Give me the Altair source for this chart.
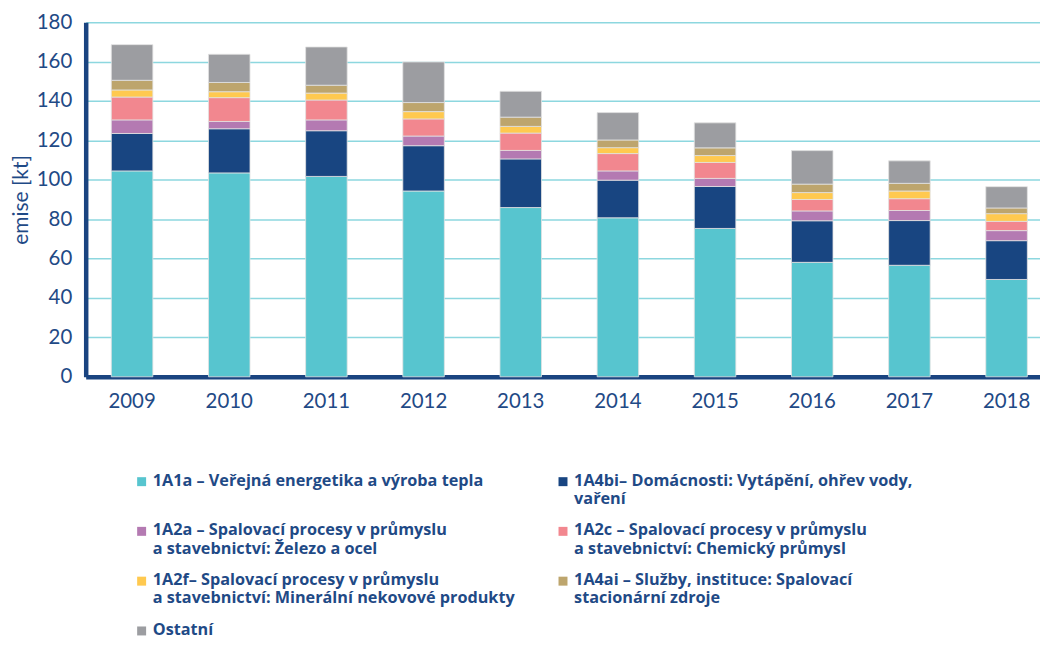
import altair as alt
import pandas as pd

years = ["2009", "2010", "2011", "2012", "2013", "2014", "2015", "2016", "2017", "2018"]

categories = [
    "1A1a – Veřejná energetika a výroba tepla",
    "1A4bi– Domácnosti: Vytápění, ohřev vody,|vaření",
    "1A2a – Spalovací procesy v průmyslu|a stavebnictví: Železo a ocel",
    "1A2c – Spalovací procesy v průmyslu|a stavebnictví: Chemický průmysl",
    "1A2f– Spalovací procesy v průmyslu|a stavebnictví: Minerální nekovové produkty",
    "1A4ai – Služby, instituce: Spalovací|stacionární zdroje",
    "Ostatní",
]

colors = ["#57C5CF", "#184581", "#B47AB2", "#F2878F", "#FFC94F", "#BDA56D", "#9C9DA1"]

s_1A1a = [104.5, 103.5, 101.7, 94.3, 85.9, 80.7, 75.3, 58.1, 56.6, 49.4]
s_1A4bi = [19.0, 22.4, 23.2, 23.0, 24.7, 19.1, 21.3, 21.1, 22.7, 19.7]
s_1A2a = [6.9, 3.7, 5.5, 4.9, 4.3, 4.7, 4.1, 5.0, 5.1, 5.1]
s_1A2c = [11.6, 12.1, 10.1, 8.7, 8.8, 8.8, 8.1, 5.8, 6.0, 4.7]
s_1A2f = [3.6, 3.0, 3.5, 3.7, 3.4, 3.0, 3.5, 3.5, 3.9, 3.9]
s_1A4ai = [4.9, 4.7, 4.0, 4.6, 4.7, 3.9, 3.9, 4.3, 3.9, 2.9]
s_ost = [18.1, 14.3, 19.4, 20.6, 13.1, 13.9, 12.7, 17.0, 11.4, 10.8]

series = [s_1A1a, s_1A4bi, s_1A2a, s_1A2c, s_1A2f, s_1A4ai, s_ost]

rows = []
for ci, (cat, vals) in enumerate(zip(categories, series)):
    for y, v in zip(years, vals):
        rows.append({"rok": y, "kategorie": cat, "emise": v, "poradi": ci})
df = pd.DataFrame(rows)

NAVY = "#1F4A86"
AXIS_FONT = "Lato"
LEGEND_FONT = "Open Sans"

# single-line labels in two-line rows get an empty second line so that
# every entry of a row starts at the same height
label_expr = (
    "indexof(datum.label, '|') < 0 && indexof(datum.label, 'Ostatn') < 0"
    " ? [datum.label, ' '] : split(datum.label, '|')"
)

chart = (
    alt.Chart(df)
    .mark_bar(stroke="#e2e2e2", strokeWidth=0.8)
    .encode(
        x=alt.X(
            "rok:N",
            title=None,
            sort=years,
            scale=alt.Scale(paddingInner=0.5725, paddingOuter=0.197, align=0.669),
            axis=alt.Axis(
                labelAngle=0,
                labelFontSize=20.5,
                labelColor=NAVY,
                labelFont=AXIS_FONT,
                labelPadding=15,
                ticks=False,
                domainColor="#1A4480",
                domainWidth=4.5,
                grid=False,
            ),
        ),
        y=alt.Y(
            "emise:Q",
            stack="zero",
            title="emise [kt]",
            scale=alt.Scale(domain=[0, 180], nice=False),
            axis=alt.Axis(
                values=[0, 20, 40, 60, 80, 100, 120, 140, 160, 180],
                labelFontSize=20.5,
                labelColor=NAVY,
                labelFont=AXIS_FONT,
                labelPadding=14,
                ticks=False,
                domainColor="#1A4480",
                domainWidth=4.5,
                grid=True,
                gridColor="#8DD7DF",
                gridWidth=1.5,
                titleFontSize=21,
                titleFontWeight="normal",
                titleColor=NAVY,
                titleFont=AXIS_FONT,
                titlePadding=5,
            ),
        ),
        color=alt.Color(
            "kategorie:N",
            scale=alt.Scale(domain=categories, range=colors),
            legend=alt.Legend(
                title=None,
                orient="none",
                legendX=48,
                legendY=444,
                columns=2,
                direction="horizontal",
                labelExpr=label_expr,
                labelFont=LEGEND_FONT,
                labelFontSize=16.3,
                labelFontWeight="bold",
                labelColor=NAVY,
                labelLimit=600,
                labelBaseline="top",
                labelOffset=3,
                symbolType="M-1,1H1V3H-1Z",
                symbolSize=81,
                symbolStrokeWidth=0,
                symbolOpacity=1,
                columnPadding=40,
                rowPadding=7,
            ),
        ),
        order=alt.Order("poradi:Q", sort="ascending"),
    )
    .properties(
        width=958,
        height=356,
        padding={"left": 2, "top": 3, "right": 0, "bottom": 0},
    )
    .configure_view(stroke=None)
)

chart.save("out.html", embed_options={"renderer": "svg", "actions": False})
